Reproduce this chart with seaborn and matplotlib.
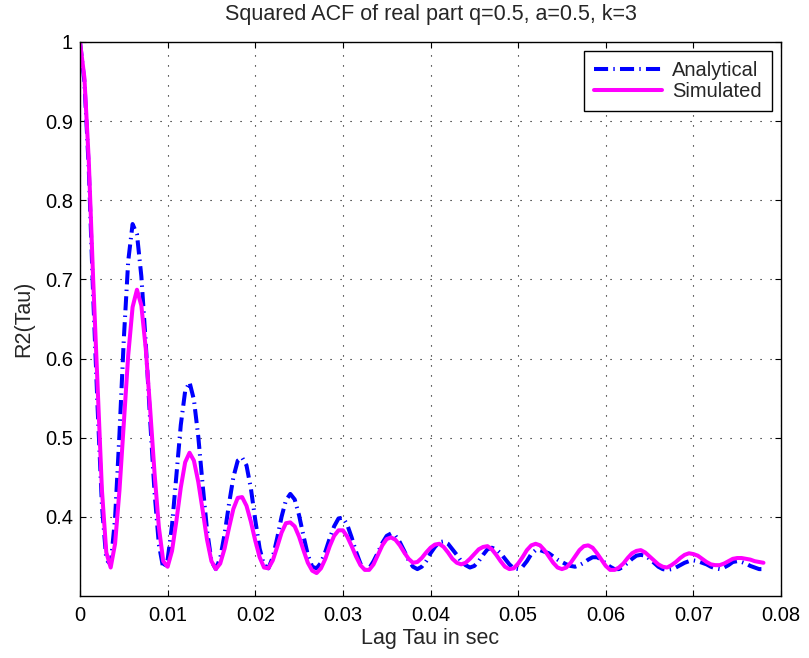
import numpy as np
import pandas as pd
import seaborn as sns
import matplotlib
matplotlib.use("Agg")
import matplotlib.pyplot as plt

# lag axis: 0 .. 0.078 s, sampled every 0.5 ms
tau = np.linspace(0, 0.078, 157)

analytical = [
    1.000, 0.950, 0.840, 0.680, 0.540, 0.415, 0.346, 0.340, 0.398, 0.504,
    0.625, 0.723, 0.770, 0.757, 0.704, 0.620, 0.523, 0.432, 0.365, 0.335,
    0.346, 0.389, 0.453, 0.516, 0.559, 0.570, 0.548, 0.501, 0.440, 0.383,
    0.344, 0.334, 0.348, 0.378, 0.416, 0.450, 0.471, 0.475, 0.465, 0.436,
    0.396, 0.360, 0.339, 0.335, 0.349, 0.373, 0.400, 0.421, 0.429, 0.422,
    0.402, 0.376, 0.352, 0.337, 0.335, 0.342, 0.356, 0.373, 0.388, 0.398,
    0.399, 0.390, 0.374, 0.356, 0.341, 0.334, 0.335, 0.344, 0.355, 0.367,
    0.376, 0.379, 0.376, 0.368, 0.357, 0.345, 0.337, 0.334, 0.337, 0.344,
    0.354, 0.362, 0.368, 0.369, 0.366, 0.359, 0.352, 0.344, 0.339, 0.336,
    0.338, 0.344, 0.352, 0.359, 0.361, 0.359, 0.354, 0.347, 0.340, 0.335,
    0.334, 0.337, 0.344, 0.353, 0.358, 0.358, 0.356, 0.354, 0.350, 0.346,
    0.343, 0.340, 0.338, 0.337, 0.339, 0.342, 0.346, 0.349, 0.349, 0.346,
    0.341, 0.337, 0.334, 0.334, 0.337, 0.342, 0.347, 0.351, 0.352, 0.351,
    0.347, 0.342, 0.337, 0.334, 0.333, 0.334, 0.336, 0.339, 0.342, 0.344,
    0.345, 0.344, 0.342, 0.340, 0.337, 0.335, 0.334, 0.336, 0.339, 0.343,
    0.344, 0.343, 0.341, 0.338, 0.336, 0.334, 0.334,
]

simulated = [
    1.000, 0.955, 0.850, 0.700, 0.566, 0.434, 0.355, 0.336, 0.366, 0.433,
    0.519, 0.604, 0.665, 0.687, 0.667, 0.613, 0.537, 0.456, 0.387, 0.344,
    0.337, 0.357, 0.395, 0.437, 0.469, 0.481, 0.471, 0.444, 0.408, 0.371,
    0.344, 0.334, 0.341, 0.360, 0.386, 0.410, 0.424, 0.425, 0.414, 0.394,
    0.370, 0.349, 0.336, 0.335, 0.345, 0.362, 0.380, 0.392, 0.393, 0.388,
    0.375, 0.358, 0.342, 0.332, 0.329, 0.335, 0.347, 0.363, 0.376, 0.383,
    0.383, 0.375, 0.363, 0.350, 0.339, 0.333, 0.333, 0.340, 0.352, 0.364,
    0.372, 0.374, 0.371, 0.364, 0.355, 0.347, 0.342, 0.343, 0.348, 0.355,
    0.361, 0.365, 0.366, 0.362, 0.355, 0.347, 0.342, 0.340, 0.342, 0.347,
    0.353, 0.359, 0.362, 0.363, 0.359, 0.352, 0.344, 0.337, 0.334, 0.335,
    0.341, 0.349, 0.358, 0.364, 0.366, 0.364, 0.358, 0.350, 0.342, 0.336,
    0.334, 0.336, 0.342, 0.350, 0.358, 0.363, 0.364, 0.361, 0.354, 0.346,
    0.338, 0.333, 0.333, 0.336, 0.341, 0.348, 0.354, 0.357, 0.358, 0.355,
    0.350, 0.345, 0.340, 0.337, 0.336, 0.339, 0.343, 0.348, 0.352, 0.354,
    0.353, 0.351, 0.347, 0.343, 0.340, 0.339, 0.339, 0.341, 0.344, 0.347,
    0.348, 0.348, 0.347, 0.346, 0.344, 0.343, 0.342,
]

xticks = [0, 0.01, 0.02, 0.03, 0.04, 0.05, 0.06, 0.07, 0.08]
xticklabels = ["0", "0.01", "0.02", "0.03", "0.04", "0.05", "0.06", "0.07", "0.08"]
yticks = [0.4, 0.5, 0.6, 0.7, 0.8, 0.9, 1.0]
yticklabels = ["0.4", "0.5", "0.6", "0.7", "0.8", "0.9", "1"]

df = pd.DataFrame({"tau": tau, "Analytical": analytical, "Simulated": simulated})

sns.set_style("ticks")
plt.rcParams["font.family"] = ["Liberation Sans", "DejaVu Sans"]
plt.rcParams["font.size"] = 14

fig = plt.figure(figsize=(8.09, 6.58), dpi=100)
ax = fig.add_axes([0.0989, 0.0942, 0.8665, 0.842])

sns.lineplot(data=df, x="tau", y="Analytical", ax=ax, color="#0000ff",
             linewidth=2.9, linestyle=(0, (3.5, 1.3, 0.35, 1.3)), label="Analytical")
sns.lineplot(data=df, x="tau", y="Simulated", ax=ax, color="#ff00ff",
             linewidth=2.9, label="Simulated")

ax.set_xlim(0, 0.08)
ax.set_ylim(0.3, 1.0)
ax.set_xticks(xticks)
ax.set_xticklabels(xticklabels)
ax.set_yticks(yticks)
ax.set_yticklabels(yticklabels)
ax.tick_params(direction="in", length=4, width=0.8, top=True, right=True,
               labelsize=14.5, colors="black")
ax.tick_params(axis="x", pad=7)
ax.tick_params(axis="y", pad=5)
for s in ax.spines.values():
    s.set_visible(True)
    s.set_color("black")
    s.set_linewidth(1.0)

ax.grid(True, color="black", linestyle=(0, (1, 8)), linewidth=0.8)

ax.set_xlabel("Lag Tau in sec", fontsize=15.5, labelpad=2)
ax.set_ylabel("R2(Tau)", fontsize=15.5, labelpad=8)
ax.set_title("Squared ACF of real part q=0.5, a=0.5, k=3", fontsize=15.5, pad=16)

leg = ax.legend(loc="upper right", fontsize=14.5, handlelength=3.4,
                frameon=True, fancybox=False, borderaxespad=0.45,
                borderpad=0.5, labelspacing=0.1, handletextpad=0.5)
leg.get_frame().set_edgecolor("black")
leg.get_frame().set_linewidth(1.0)
leg.get_frame().set_alpha(1)

fig.savefig("out.png", dpi=100, facecolor="white")
